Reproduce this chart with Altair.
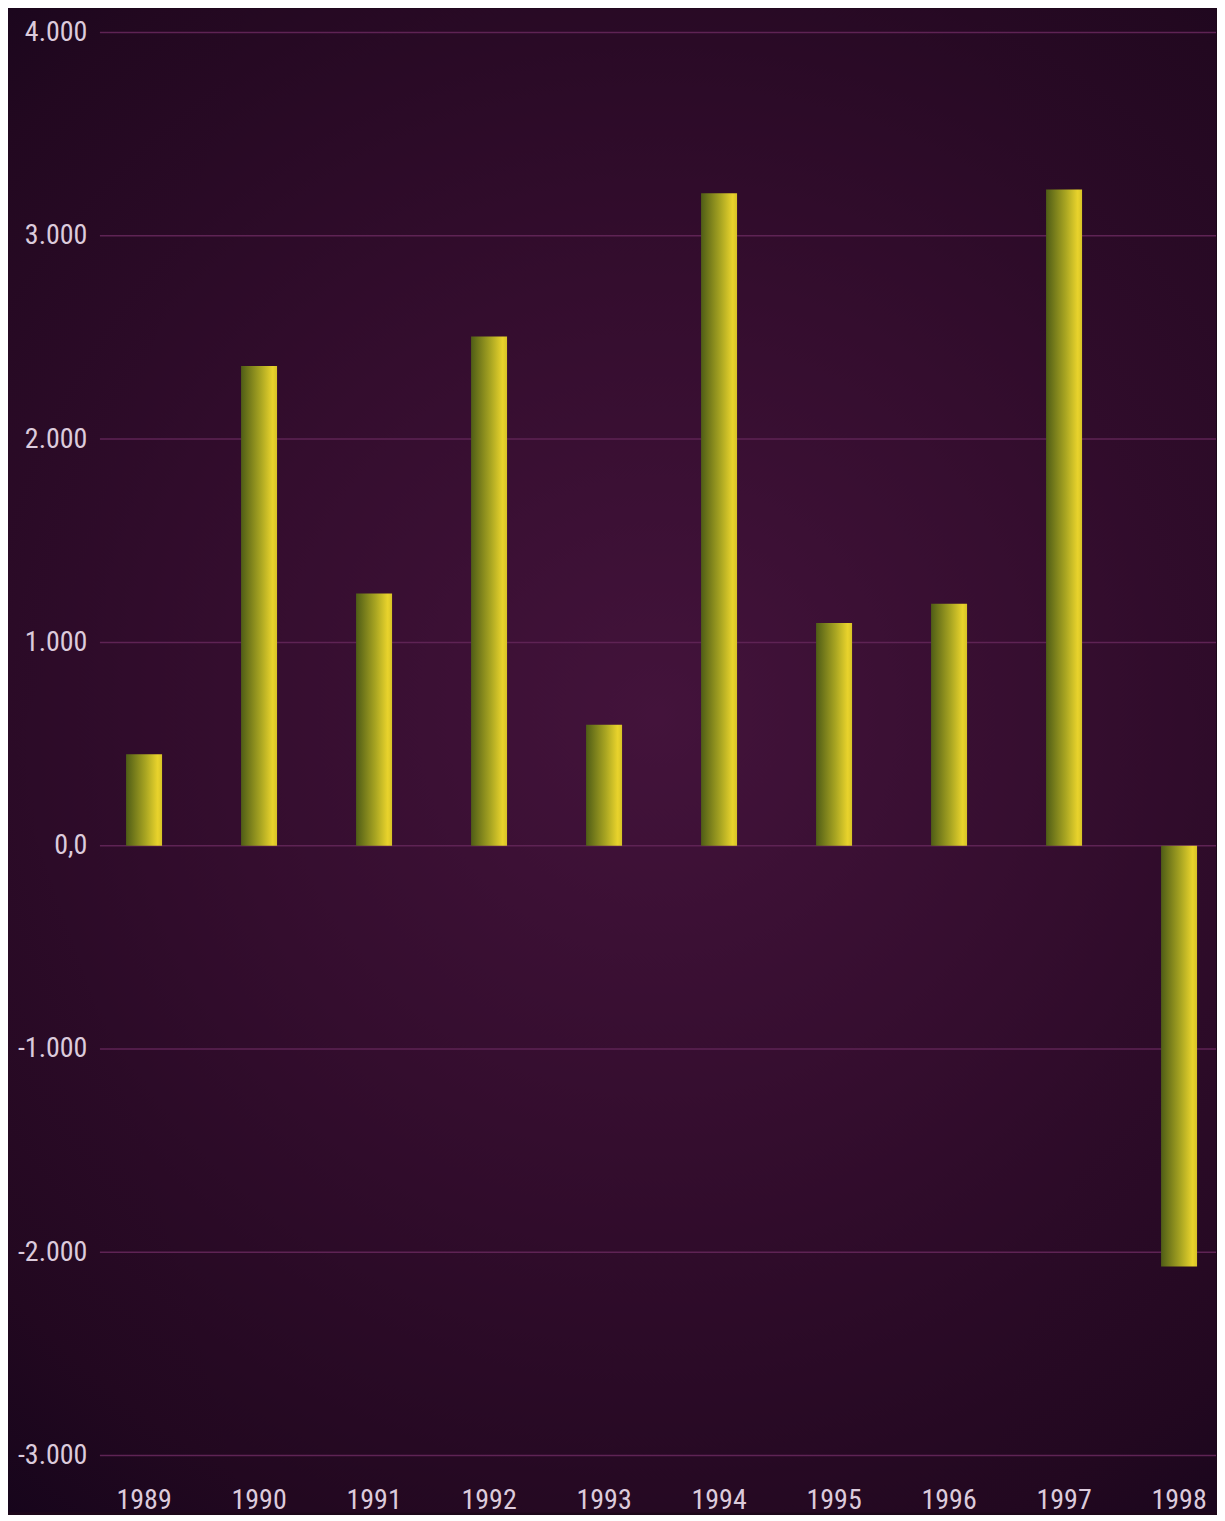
import altair as alt
import pandas as pd

years = ["1989", "1990", "1991", "1992", "1993", "1994", "1995", "1996", "1997", "1998"]
values = [450, 2360, 1240, 2505, 595, 3210, 1095, 1190, 3228, -2070]
y_ticks = [-3000, -2000, -1000, 0, 1000, 2000, 3000, 4000]

W, H = 1117, 1424
FONT = "Roboto Condensed, DejaVu Sans Condensed, Liberation Sans Narrow, Roboto, sans-serif"
LABEL = "#dccbdc"

bars_df = pd.DataFrame({"year": years, "value": values})
grid_df = pd.DataFrame({"v": y_ticks})
bg_df = pd.DataFrame({"a": [0]})

yscale = alt.Scale(domain=[-3000, 4000], nice=False, zero=False)
xscale = alt.Scale(paddingInner=0.687, paddingOuter=0.196, align=0.58)

yaxis = alt.Axis(title=None, values=y_ticks, ticks=False, domain=False, grid=False,
                 labelPadding=13, labelFontSize=28, labelFont=FONT, labelFontWeight=400,
                 labelColor=LABEL, zindex=2,
                 labelExpr="datum.value == 0 ? '0,0' : (datum.value < 0 ? '-' : '') + replace(format(abs(datum.value), ','), ',', '.')")
xaxis = alt.Axis(title=None, labelAngle=0, ticks=False, domain=False,
                 labelPadding=31, labelFontSize=28, labelFont=FONT, labelFontWeight=400,
                 labelColor=LABEL, grid=False, zindex=2)

bg = alt.Chart(bg_df).mark_rect(
    fill={
        "gradient": "radial",
        "x1": 0.53, "y1": 0.47, "r1": 0,
        "x2": 0.53, "y2": 0.47, "r2": 0.72,
        "stops": [
            {"offset": 0, "color": "#43133b"},
            {"offset": 0.4, "color": "#340d2e"},
            {"offset": 0.8, "color": "#220820"},
            {"offset": 1, "color": "#13041a"},
        ],
    },
    strokeWidth=0,
).encode(
    x=alt.value(-92), x2=alt.value(W),
    y=alt.value(-24), y2=alt.value(1481),
)

grid = alt.Chart(grid_df).mark_rule(color="#5e2354", strokeWidth=1.5).encode(
    y=alt.Y("v:Q", scale=yscale, axis=yaxis),
    x=alt.value(0), x2=alt.value(W),
)

bars = alt.Chart(bars_df).mark_bar(
    color={
        "gradient": "linear",
        "x1": 0, "y1": 0, "x2": 1, "y2": 0,
        "stops": [
            {"offset": 0, "color": "#4f5d16"},
            {"offset": 0.55, "color": "#aaa622"},
            {"offset": 0.88, "color": "#e9d32c"},
            {"offset": 1, "color": "#d6c226"},
        ],
    },
    cornerRadius=0,
).encode(
    x=alt.X("year:N", sort=years, scale=xscale, axis=xaxis),
    y=alt.Y("value:Q", scale=yscale, axis=yaxis),
)

chart = alt.layer(bg, grid, bars).properties(
    width=W, height=H, padding=0, background="#1c0719"
).configure_view(stroke=None)

chart.save("out.html", embed_options={"renderer": "svg", "actions": False})
